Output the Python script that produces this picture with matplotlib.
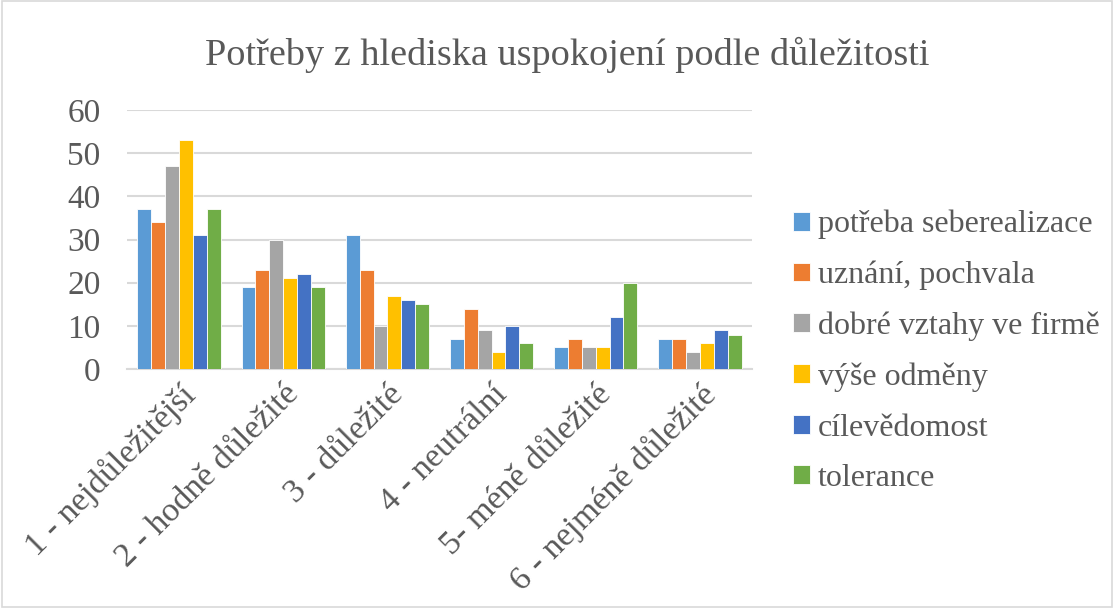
import matplotlib
matplotlib.use("Agg")
import matplotlib.pyplot as plt
import numpy as np

categories = ["1 - nejdůležitější", "2 - hodně důležité", "3 - důležité",
              "4 - neutrální", "5- méně důležité", "6 - nejméně důležité"]
series_names = ["potřeba seberealizace", "uznání, pochvala", "dobré vztahy ve firmě",
                "výše odměny", "cílevědomost", "tolerance"]
seberealizace = [37, 19, 31, 7, 5, 7]
uznani = [34, 23, 23, 14, 7, 7]
vztahy = [47, 30, 10, 9, 5, 4]
odmeny = [53, 21, 17, 4, 5, 6]
cilevedomost = [31, 22, 16, 10, 12, 9]
tolerance = [37, 19, 15, 6, 20, 8]
yticks = [0, 10, 20, 30, 40, 50, 60]

series = [seberealizace, uznani, vztahy, odmeny, cilevedomost, tolerance]
colors = ["#5B9BD5", "#ED7D31", "#A5A5A5", "#FFC000", "#4472C4", "#70AD47"]

plt.rcParams['font.family'] = ['Liberation Serif', 'DejaVu Serif']
fig = plt.figure(figsize=(11.14, 6.08), dpi=100)
ax = fig.add_axes([0.114, 0.393, 0.561, 0.426])

n = len(series)
x = np.arange(len(categories))
group_w = 0.8
bw = group_w / n
for i, (vals, c, name) in enumerate(zip(series, colors, series_names)):
    ax.bar(x - group_w / 2 + bw * (i + 0.5), vals, width=bw, color=c,
           edgecolor='white', linewidth=0.6, label=name, zorder=3)

ax.set_xlim(-0.5, len(categories) - 0.5)
ax.set_ylim(0, 60)
ax.set_yticks(yticks)
ax.set_yticklabels([str(v) for v in yticks], fontsize=24, color='#595959')
ax.grid(axis='y', color='#D9D9D9', linewidth=1.5, zorder=0)
for s in ['top', 'right', 'left']:
    ax.spines[s].set_visible(False)
ax.spines['bottom'].set_color('#D9D9D9')
ax.spines['bottom'].set_linewidth(1.5)
ax.tick_params(axis='y', length=0, pad=19)
ax.set_xticks(x)
ax.set_xticklabels(categories, rotation=45, ha='right', va='top',
                   rotation_mode='anchor', fontsize=24.5, color='#595959')
ax.tick_params(axis='x', length=0, pad=7)

fig.text(0.509, 0.91, "Potřeby z hlediska uspokojení podle důležitosti",
         ha='center', va='center', fontsize=27.5, color='#595959')

leg = fig.legend(loc='center left', bbox_to_anchor=(0.712, 0.422), frameon=False,
                 fontsize=23, handlelength=0.53, handleheight=0.53,
                 labelspacing=0.67, handletextpad=0.25, labelcolor='#595959',
                 borderpad=0, borderaxespad=0)

border = plt.Rectangle((0.002, 0.002), 0.996, 0.996, transform=fig.transFigure,
                       fill=False, edgecolor='#D9D9D9', linewidth=1.2)
fig.add_artist(border)

fig.savefig("out.png", dpi=100)
